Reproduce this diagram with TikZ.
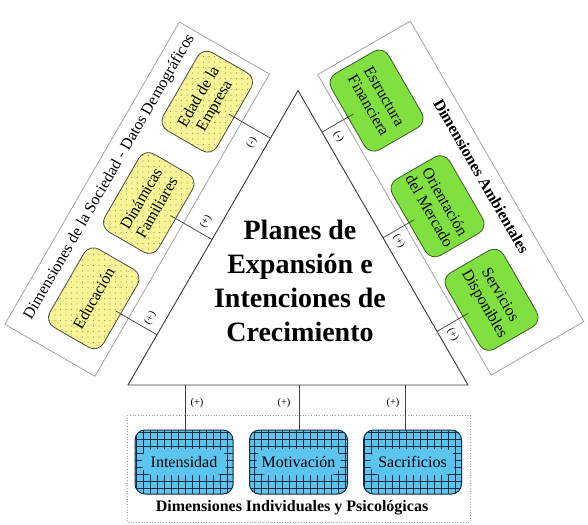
\documentclass[tikz,border=0pt]{standalone}
\usepackage{fontspec}
\setmainfont{Liberation Serif}
\usetikzlibrary{patterns.meta,calc}
\definecolor{ylw}{HTML}{F8F598}
\definecolor{ylwdot}{HTML}{9A9650}
\definecolor{grn}{HTML}{80E040}
\definecolor{grnline}{HTML}{3C5A24}
\definecolor{blu}{HTML}{5BC4EF}
\definecolor{blugrid}{HTML}{1B2B3B}
\definecolor{panelgray}{HTML}{9C9C9C}
\definecolor{tricol}{HTML}{3A3A3A}
\begin{document}
\begin{tikzpicture}[x=1pt,y=1pt,
  panel/.style={draw=panelgray, line width=0.7pt},
  ybox/.style={draw=black!70, line width=0.8pt, rounded corners=11pt,
    preaction={fill=ylw}, pattern={Dots[distance=5.5pt,radius=0.6pt]}, pattern color=ylwdot,
    minimum width=90pt, minimum height=62pt, align=center, inner sep=0pt,
    font=\fontsize{16}{18}\selectfont, transform shape},
  gbox/.style={draw=grnline, line width=0.8pt, fill=grn, rounded corners=11pt,
    minimum width=88pt, minimum height=66pt, align=center, inner sep=0pt,
    font=\fontsize{16}{18}\selectfont, transform shape},
  bbox/.style={draw=blugrid, line width=1pt, fill=blu, rounded corners=10pt,
    minimum width=98pt, minimum height=64pt, inner sep=0pt,
    font=\fontsize{16}{18}\selectfont,
    path picture={
      \draw[blugrid, line width=0.9pt] (path picture bounding box.south west)
        grid[step=7pt] (path picture bounding box.north east);
      \fill[blu] ([xshift=7pt,yshift=-13pt]path picture bounding box.west)
        rectangle ([xshift=-7pt,yshift=13pt]path picture bounding box.east);
    }},
  conn/.style={draw=black!75, line width=0.7pt},
  sign/.style={font=\fontsize{10.5}{12}\selectfont, inner sep=0pt, transform shape},
  ptitle/.style={font=\fontsize{16}{18}\selectfont, inner sep=0pt, transform shape},
  bptitle/.style={font=\bfseries\fontsize{16}{18}\selectfont, inner sep=0pt, transform shape},
  maintitle/.style={font=\bfseries\fontsize{28}{34}\selectfont, align=center, inner sep=0pt}
]
\fill[white] (0,0) rectangle (588,-524);
\useasboundingbox (0,0) rectangle (588,-524);

% triangle corners
\coordinate (A) at (128,-385);
\coordinate (B) at (468,-385);
\coordinate (C) at (298,-90.55);

% bottom panel
\draw[draw=panelgray, line width=0.7pt, dotted] (127,-415) rectangle (470,-522);

% left panel
\begin{scope}[shift={(128,-385)}, rotate=60]
  \draw[panel] (-9,33) rectangle (340,137);
  \node[ptitle] (ltitle) at (171,120) {Dimensiones de la Sociedad - Datos Demográficos};
  \node[ybox] (educ) at (58,73) {Educación};
  \node[ybox] (dina) at (168,73) {Dinámicas\\Familiares};
  \node[ybox] (edad) at (285,73) {Edad de la\\Empresa};
  \coordinate (le1) at (58,0);
  \coordinate (le2) at (168,0);
  \coordinate (le3) at (285,0);
  \node[sign] (ls1) at (69,14) {(+)};
  \node[sign] (ls2) at (180,14) {(+)};
  \node[sign] (ls3) at (272,14) {(-)};
\end{scope}

% right panel
\begin{scope}[shift={(468,-385)}, rotate=-60]
  \draw[panel] (-344,25) rectangle (3,132);
  \node[bptitle] (rtitle) at (-174,116) {Dimensiones Ambientales};
  \node[gbox] (estr) at (-292,63) {Estructura\\Financiera};
  \node[gbox] (orie) at (-170,63) {Orientación\\del Mercado};
  \node[gbox] (serv) at (-62,63) {Servicios\\Disponibles};
  \coordinate (re1) at (-292,0);
  \coordinate (re2) at (-170,0);
  \coordinate (re3) at (-62,0);
  \node[sign] (rs1) at (-280,12) {(-)};
  \node[sign] (rs2) at (-159,12) {(+)};
  \node[sign] (rs3) at (-51,12) {(+)};
\end{scope}

% triangle
\draw[draw=tricol, line width=0.9pt, fill=white] (A) -- (B) -- (C) -- cycle;
\node[maintitle] (title) at (300,-281) {Planes de\\Expansión e\\Intenciones de\\Crecimiento};

% bottom boxes
\node[bbox] (inte) at (184,-462) {Intensidad};
\node[bbox] (moti) at (298.5,-462) {Motivación};
\node[bbox] (sacr) at (412.5,-462) {Sacrificios};
\node[font=\bfseries\fontsize{16}{18}\selectfont, inner sep=0pt] (btitle) at (292,-508) {Dimensiones Individuales y Psicológicas};
\coordinate (k1) at (185,-385);
\coordinate (k2) at (299,-385);
\coordinate (k3) at (405,-385);
\node[sign] (bs1) at (197,-403) {(+)};
\node[sign] (bs2) at (284,-403) {(+)};
\node[sign] (bs3) at (393,-403) {(+)};

% connectors
\draw[conn] ($(educ.south)!0.2!(educ.center)$) -- (le1);
\draw[conn] ($(dina.south)!0.2!(dina.center)$) -- (le2);
\draw[conn] ($(edad.south)!0.2!(edad.center)$) -- (le3);
\draw[conn] ($(estr.south)!0.2!(estr.center)$) -- (re1);
\draw[conn] ($(orie.south)!0.2!(orie.center)$) -- (re2);
\draw[conn] ($(serv.south)!0.2!(serv.center)$) -- (re3);
\draw[conn] (k1) -- (k1 |- inte.north);
\draw[conn] (k2) -- (k2 |- moti.north);
\draw[conn] (k3) -- (k3 |- sacr.north);
\end{tikzpicture}
\end{document}
